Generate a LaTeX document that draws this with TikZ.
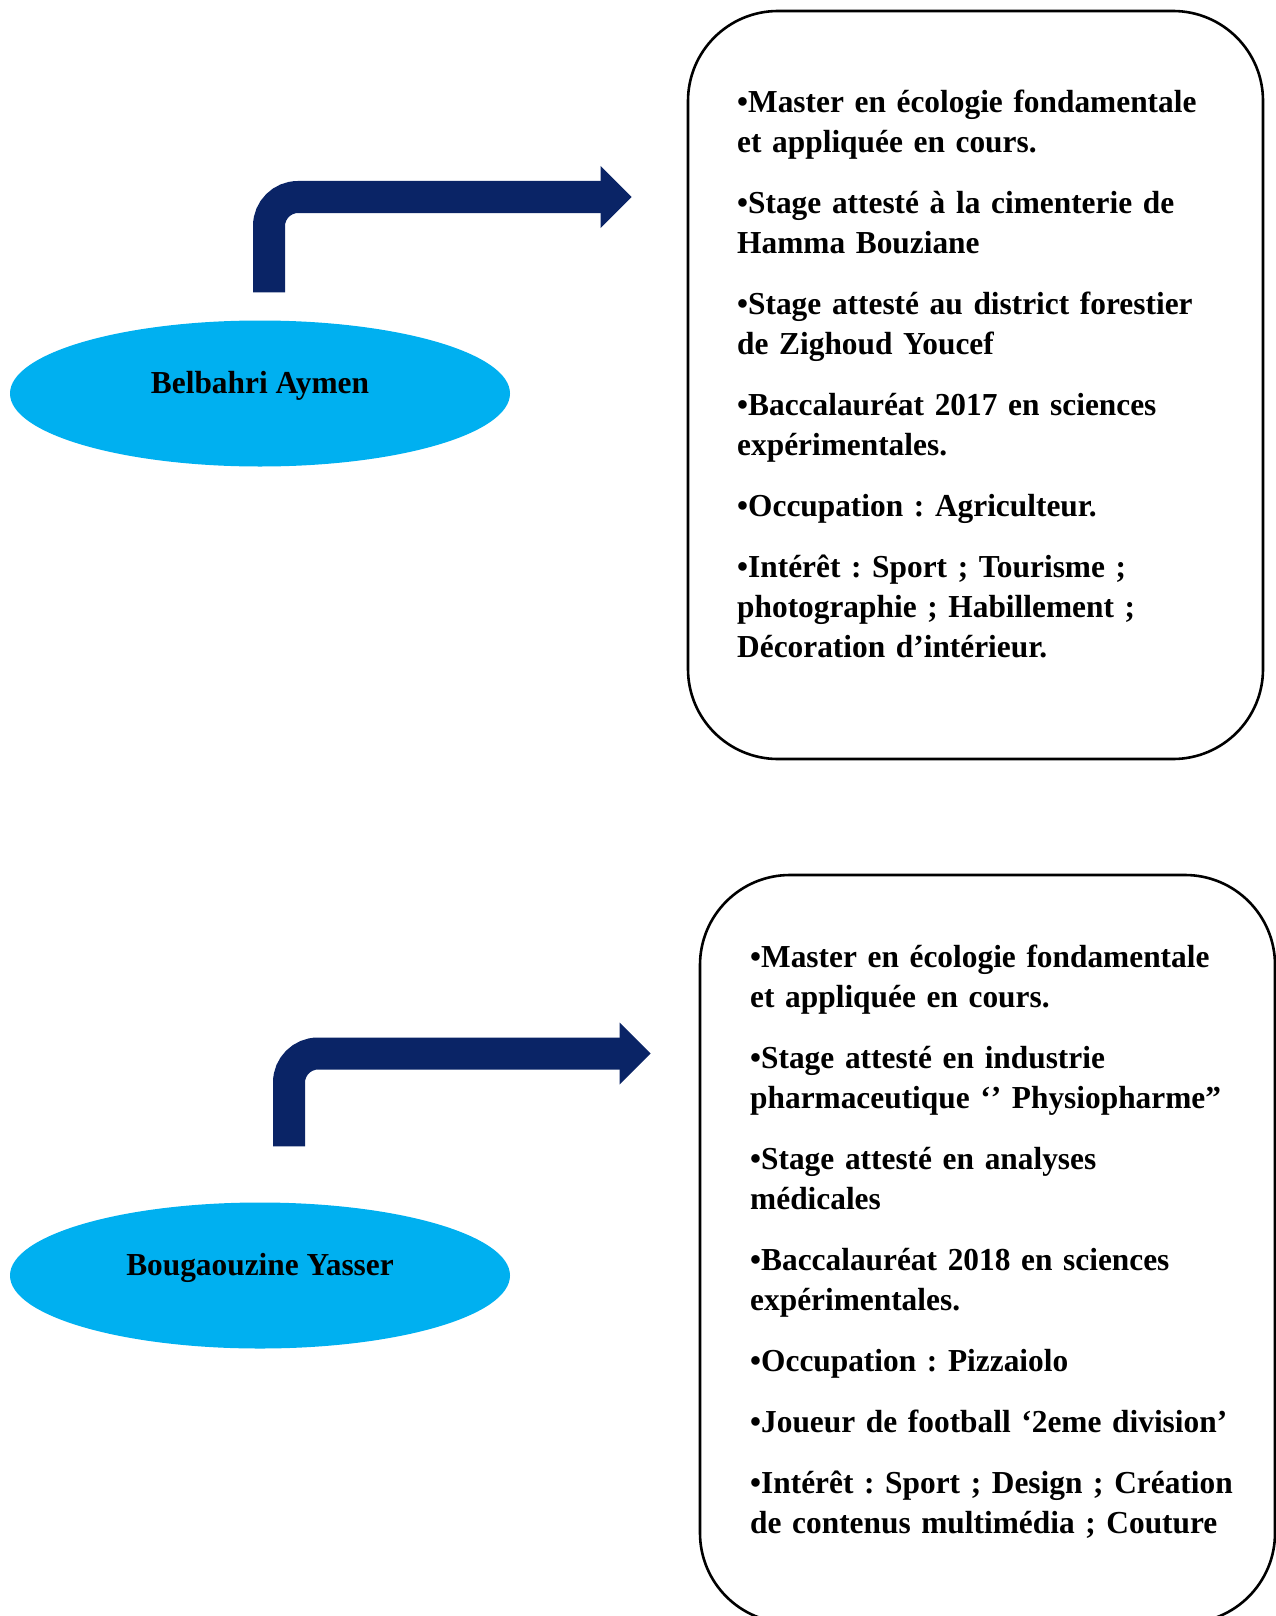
\documentclass[tikz,border=0pt]{standalone}
\usepackage{fontspec}
\setmainfont{Liberation Serif}[FakeStretch=0.98]
\usetikzlibrary{shapes.geometric,calc}
\definecolor{navy}{RGB}{10,36,102}
\definecolor{cyanfill}{RGB}{0,176,240}
\frenchspacing
\begin{document}
\begin{tikzpicture}[x=1pt,y=-1pt,
  box/.style={draw=black, line width=2.6pt, rounded corners=90pt, minimum width=575pt, minimum height=748pt, inner sep=0pt},
  oval/.style={ellipse, fill=cyanfill, minimum width=500pt, minimum height=146pt, inner sep=0pt, font=\fontsize{32}{40}\selectfont\bfseries, text height=12pt, text depth=12pt},
  items/.style={anchor=base west, text width=560pt, align=left, inner sep=0pt, font=\fontsize{32}{40}\selectfont\bfseries\frenchspacing},
  shaft/.style={draw=navy, line width=32pt, rounded corners=29pt},
  head/.style={fill=navy}]
\useasboundingbox (0,0) rectangle (1276,1616);
\fill[white] (0,0) rectangle (1276,1616);

% ---- first person ----
\node[oval] (e1) at (260,393.5) {Belbahri Aymen};
\node[box] (b1) at (975.5,385) {};
\node[items] (t1) at (737,113) {\setlength\parindent{0pt}\setlength\parskip{21pt}%
•Master en écologie fondamentale\\ et appliquée en cours.\par
•Stage attesté à la cimenterie de\\ Hamma Bouziane\par
•Stage attesté au district forestier\\ de Zighoud Youcef\par
•Baccalauréat 2017 en sciences\\ expérimentales.\par
•Occupation : Agriculteur.\par
•Intérêt : Sport ; Tourisme ;\\ photographie ; Habillement ;\\ Décoration d’intérieur.};
\coordinate (a1s) at ($(e1.north)+(9,-28)$);
\coordinate (a1h) at ($(b1.west)+(-85,-188)$);
\coordinate (a1e) at ($(b1.west)+(-55,-188)$);
\draw[shaft] (a1s) |- (a1h);
\fill[head] ($(a1h)+(-1,-31)$) -- (a1e) -- ($(a1h)+(-1,31)$) -- cycle;

% ---- second person ----
\node[oval] (e2) at (260,1275.5) {Bougaouzine Yasser};
\node[box] (b2) at (987.5,1249) {};
\node[items] (t2) at (750,967) {\setlength\parindent{0pt}\setlength\parskip{21pt}%
•Master en écologie fondamentale\\ et appliquée en cours.\par
•Stage attesté en industrie\\ pharmaceutique ‘’ Physiopharme”\par
•Stage attesté en analyses\\ médicales\par
•Baccalauréat 2018 en sciences\\ expérimentales.\par
•Occupation : Pizzaiolo\par
•Joueur de football ‘2eme division’\par
•Intérêt : Sport ; Design ; Création\\ de contenus multimédia ; Couture};
\coordinate (a2s) at ($(e2.north)+(29,-56)$);
\coordinate (a2h) at ($(b2.west)+(-78,-195.5)$);
\coordinate (a2e) at ($(b2.west)+(-48,-195.5)$);
\draw[shaft] (a2s) |- (a2h);
\fill[head] ($(a2h)+(-1,-31)$) -- (a2e) -- ($(a2h)+(-1,31)$) -- cycle;
\end{tikzpicture}
\end{document}
